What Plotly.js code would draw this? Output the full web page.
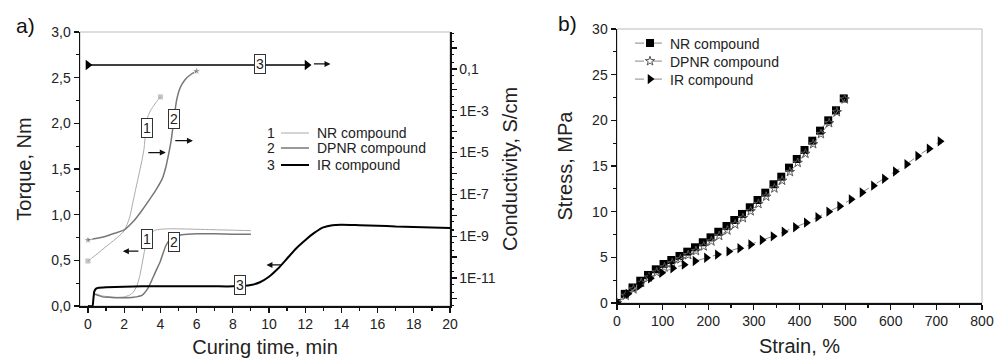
<!DOCTYPE html>
<html><head><meta charset="utf-8">
<script src="https://cdn.plot.ly/plotly-3.0.1.min.js"></script>
<style>html,body{margin:0;padding:0;background:#fff}#chart{width:995px;height:361px}</style>
</head><body><div id="chart"></div>
<script>
// ---------- Panel a: torque (left axis, Nm) ----------
const tNRtorque = [0.3,0.5,0.8,1.2,1.6,2.0,2.3,2.5,2.7,2.85,3.0,3.1,3.2,3.35,3.5,3.7,4.0,4.5,5,6,7,8,9];
const NRtorque  = [0.14,0.13,0.11,0.10,0.095,0.10,0.12,0.15,0.22,0.32,0.47,0.58,0.67,0.75,0.80,0.83,0.84,0.845,0.845,0.84,0.835,0.83,0.825];
const tDPNRtorque = [0.3,0.5,0.8,1.2,1.6,2.0,2.5,3.0,3.3,3.5,3.7,4.0,4.3,4.5,4.8,5.2,6,7,8,9];
const DPNRtorque  = [0.13,0.12,0.10,0.095,0.09,0.09,0.095,0.12,0.19,0.27,0.36,0.49,0.66,0.72,0.76,0.78,0.79,0.79,0.785,0.785];
const tIRtorque = [0,0.25,0.3,0.35,0.45,0.6,1,2,3,4,5,6,7,8,9,9.5,10,10.5,11,11.5,12,12.5,13,13.5,14,15,16,17,18,19,20];
const IRtorque  = [0,0,0.08,0.16,0.19,0.20,0.205,0.21,0.215,0.215,0.215,0.215,0.215,0.215,0.23,0.26,0.32,0.41,0.52,0.63,0.72,0.80,0.86,0.885,0.89,0.885,0.88,0.87,0.865,0.86,0.855];

// ---------- Panel a: conductivity (right axis, S/cm, log) ----------
const tNRcond = [0,0.5,1,1.5,2,2.3,2.5,2.75,3.0,3.1,3.2,3.3,3.45,3.6,3.8,4.0];
const NRcond  = [6.5e-11,1.4e-10,3.2e-10,7.1e-10,1.8e-9,7.9e-9,5.0e-8,5.0e-7,5.0e-6,1.6e-5,1.3e-4,5.0e-4,1.0e-3,1.6e-3,2.8e-3,4.6e-3];
const tDPNRcond = [0,0.5,1,1.5,2,2.5,3,3.5,3.8,4.1,4.3,4.45,4.6,4.75,4.9,5.1,5.35,5.7,6.0];
const DPNRcond  = [6.6e-10,7.9e-10,1.0e-9,1.4e-9,2.0e-9,5.0e-9,1.8e-8,7.6e-8,1.9e-7,5.5e-7,2.0e-6,8.0e-6,4.0e-5,4.0e-4,3.3e-3,1.3e-2,3.0e-2,5.6e-2,7.9e-2];
const tIRcond = [0,12.1];
const IRcond  = [0.155,0.155];

const condTickVals = [1e-12,1e-11,1e-10,1e-9,1e-8,1e-7,1e-6,1e-5,1e-4,1e-3,1e-2,1e-1,1];
const condTickText = ['','1E-11','','1E-9','','1E-7','','1E-5','','1E-3','','0,1',''];
const legendA = ['NR compound','DPNR compound','IR compound'];

// ---------- Panel b: stress-strain ----------
const strainNR = [0,17,34,51,68,85,102,119,137,154,171,188,205,222,240,257,274,291,308,325,343,360,377,394,411,428,445,463,480,497];
const stressNR = [0,1.0,1.7,2.44,3.07,3.69,4.27,4.71,5.15,5.62,6.1,6.65,7.19,7.8,8.43,9.09,9.75,10.48,11.28,12.08,13.0,13.83,14.82,15.77,16.75,17.77,18.87,20.0,21.1,22.4];
const strainDPNR = [0,19,36,53,70,87,104,121,139,156,173,190,207,224,242,259,276,293,310,327,345,362,379,396,413,430,447,465,482,499];
const stressDPNR = [0,0.8,1.5,2.2,2.8,3.35,3.9,4.35,4.8,5.25,5.7,6.2,6.75,7.35,7.95,8.6,9.3,10.05,10.85,11.65,12.55,13.4,14.35,15.35,16.35,17.4,18.5,19.7,20.9,22.3];
const strainIR = [0,24,49,73,98,122,147,171,196,220,245,269,293,318,342,366,391,415,440,464,488,513,537,562,586,610,635,659,684,708];
const stressIR = [0,1.0,1.9,2.7,3.3,3.8,4.2,4.6,4.95,5.3,5.65,6.0,6.4,6.9,7.3,7.8,8.3,8.8,9.4,10.0,10.6,11.35,12.1,12.85,13.6,14.4,15.2,16.1,16.9,17.7];

const C_NR = '#aaaaaa', C_DP = '#777777', C_IR = '#000000';
function endSizes(n, s){ return Array.from({length:n},(_,i)=> (i===0||i===n-1)? s : 0); }

const traces = [
  {x:tNRtorque, y:NRtorque, mode:'lines', line:{color:C_NR,width:1,shape:'spline',smoothing:0.6}, xaxis:'x', yaxis:'y', showlegend:false},
  {x:tDPNRtorque, y:DPNRtorque, mode:'lines', line:{color:C_DP,width:1.5,shape:'spline',smoothing:0.6}, xaxis:'x', yaxis:'y', showlegend:false},
  {x:tIRtorque, y:IRtorque, mode:'lines', line:{color:C_IR,width:2,shape:'spline',smoothing:0.4}, xaxis:'x', yaxis:'y', showlegend:false},
  {x:tNRcond, y:NRcond, mode:'lines+markers', line:{color:C_NR,width:1,shape:'spline',smoothing:0.6}, marker:{symbol:'square',color:C_NR,size:endSizes(tNRcond.length,6)}, xaxis:'x', yaxis:'y2', showlegend:false},
  {x:tDPNRcond, y:DPNRcond, mode:'lines+markers', line:{color:C_DP,width:1.5,shape:'spline',smoothing:0.6}, marker:{symbol:'star',color:C_DP,size:endSizes(tDPNRcond.length,7)}, xaxis:'x', yaxis:'y2', showlegend:false},
  {x:tIRcond, y:IRcond, mode:'lines+markers', line:{color:C_IR,width:1.5}, marker:{symbol:'triangle-right',color:C_IR,size:9}, xaxis:'x', yaxis:'y2', showlegend:false},

  {x:strainNR, y:stressNR, name:'NR compound', legend:'legend', mode:'lines+markers', line:{color:'#888',width:1,dash:'dash'}, marker:{symbol:'square',color:'#000',size:8}, xaxis:'x2', yaxis:'y3'},
  {x:strainDPNR, y:stressDPNR, name:'DPNR compound', legend:'legend2', mode:'lines+markers', line:{color:'#888',width:1,dash:'dash'}, marker:{symbol:'star-open',color:'#555',size:7,line:{width:1}}, xaxis:'x2', yaxis:'y3'},
  {x:strainIR, y:stressIR, name:'IR compound', legend:'legend3', mode:'lines+markers', line:{color:'#888',width:1,dash:'dash'}, marker:{symbol:'triangle-right',color:'#000',size:9}, xaxis:'x2', yaxis:'y3'}
];

const FONT = 'Liberation Sans, Arial, sans-serif';
const axBase = {showline:true, linecolor:'#111', linewidth:1.5, ticks:'outside', ticklen:5, tickwidth:1.2, tickcolor:'#111',
  showgrid:false, zeroline:false, tickfont:{size:14,color:'#222'}, automargin:false};

function box(x,y,t){ return {x:x,y:y,xref:'x',yref:'y',text:t,showarrow:false,bordercolor:'#333',borderwidth:1,borderpad:1,bgcolor:'#fff',font:{size:14,color:'#222'}}; }
function arrow(xh,xt,y){ return {x:xh,y:y,ax:xt,ay:y,xref:'x',yref:'y',axref:'x',ayref:'y',text:'',showarrow:true,arrowhead:2,arrowsize:1,arrowwidth:1.2,arrowcolor:'#111'}; }

const rowsY = [133,148,165];
const rowColors = [C_NR,C_DP,C_IR];
const rowWidths = [1,1.5,2];
const annotations = [
  {x:25/995,y:1-26/361,xref:'paper',yref:'paper',xanchor:'center',yanchor:'middle',text:'a)',showarrow:false,font:{size:21,color:'#111'}},
  {x:567/995,y:1-23/361,xref:'paper',yref:'paper',xanchor:'center',yanchor:'middle',text:'b)',showarrow:false,font:{size:21,color:'#111'}},
  box(3.25,1.95,'1'), box(4.74,2.05,'2'), arrow(4.3,3.25,1.68), arrow(5.8,4.74,1.81),
  box(3.25,0.73,'1'), box(4.74,0.70,'2'), arrow(1.93,2.87,0.60),
  box(8.41,0.227,'3'), arrow(9.86,10.74,0.45),
  box(9.53,2.65,'3'), arrow(13.4,12.4,2.65)
];
const shapes = [
  {type:'rect',xref:'x domain',yref:'y domain',x0:0,x1:1,y0:0,y1:1,line:{color:'#bbb',width:1},layer:'below'},
  {type:'rect',xref:'x2 domain',yref:'y3 domain',x0:0,x1:1,y0:0,y1:1,line:{color:'#bbb',width:1},layer:'below'}
];
legendA.forEach((name,i)=>{
  const yy = 1-rowsY[i]/361;
  annotations.push({x:277/995,y:yy,xref:'paper',yref:'paper',xanchor:'right',yanchor:'middle',text:String(i+1),showarrow:false,font:{size:14,color:'#222'}});
  annotations.push({x:315/995,y:yy,xref:'paper',yref:'paper',xanchor:'left',yanchor:'middle',text:name,showarrow:false,font:{size:14,color:'#222'}});
  shapes.push({type:'line',xref:'paper',yref:'paper',x0:281/995,x1:309/995,y0:yy,y1:yy,line:{color:rowColors[i],width:rowWidths[i]}});
});

function legendAt(py){ return {x:630/995,y:1-py/361,xanchor:'left',yanchor:'middle',bgcolor:'rgba(0,0,0,0)',font:{size:14,color:'#222'},itemwidth:30}; }

const layout = {
  width:995, height:361, margin:{l:0,r:0,t:0,b:0}, paper_bgcolor:'#fff', plot_bgcolor:'#fff',
  separators:', ', font:{family:FONT,color:'#222',size:13},
  xaxis: Object.assign({}, axBase, {domain:[80/995,450/995], range:[-0.44,20.0], tick0:0, dtick:2,
    minor:{dtick:1,ticks:'outside',ticklen:3,tickcolor:'#111'}, anchor:'y',
    title:{text:'Curing time, min',font:{size:20,color:'#222'},standoff:8}}),
  yaxis: Object.assign({}, axBase, {domain:[1-306/361,1-32/361], range:[0,3], dtick:0.5, tickformat:'.1f',
    minor:{dtick:0.25,ticks:'outside',ticklen:3,tickcolor:'#111'}, anchor:'x',
    title:{text:'Torque, Nm',font:{size:20,color:'#222'},standoff:14}}),
  yaxis2: Object.assign({}, axBase, {overlaying:'y', side:'right', anchor:'x', type:'log', range:[-12.34,0.77],
    tickmode:'array', tickvals:condTickVals, ticktext:condTickText,
    minor:{ticks:'outside',ticklen:2,tickcolor:'#111',dtick:'D2'},
    title:{text:'Conductivity, S/cm',font:{size:20,color:'#222'},standoff:8}}),
  xaxis2: Object.assign({}, axBase, {domain:[617/995,982/995], range:[0,800], dtick:100, anchor:'y3',
    minor:{dtick:50,ticks:'outside',ticklen:3,tickcolor:'#111'},
    title:{text:'Strain, %',font:{size:20,color:'#222'},standoff:10}}),
  yaxis3: Object.assign({}, axBase, {domain:[1-303/361,1-29/361], range:[0,30], dtick:5, anchor:'x2',
    minor:{dtick:2.5,ticks:'outside',ticklen:3,tickcolor:'#111'},
    title:{text:'Stress, MPa',font:{size:20,color:'#222'},standoff:14}}),
  showlegend:true,
  legend: legendAt(43.5), legend2: legendAt(61.5), legend3: legendAt(79.5),
  annotations:annotations, shapes:shapes
};
Plotly.newPlot('chart', traces, layout, {displayModeBar:false, staticPlot:true});
</script></body></html>
